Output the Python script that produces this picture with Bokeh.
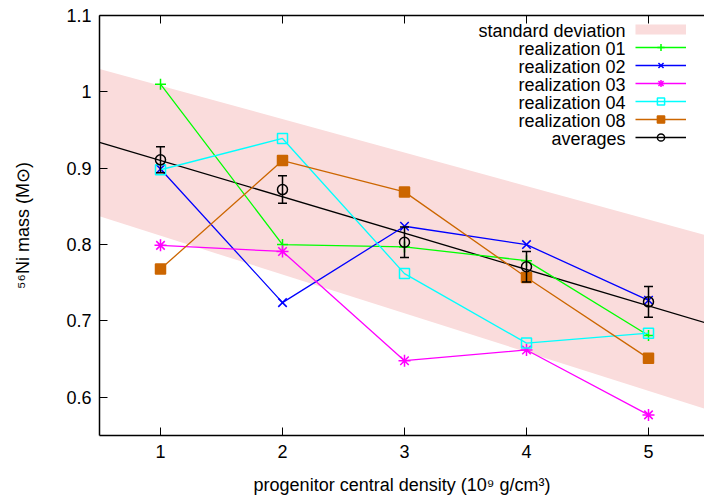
from bokeh.plotting import figure
from bokeh.models import (Range1d, LinearAxis, FixedTicker,
                          Legend, LegendItem, Label)
from bokeh.core.properties import value
from bokeh.embed import file_html
from bokeh.resources import INLINE

# ---------------- data ----------------
density = [1, 2, 3, 4, 5]
real_01 = [1.010, 0.800, 0.797, 0.779, 0.681]
real_02 = [0.899, 0.724, 0.824, 0.800, 0.727]
real_03 = [0.799, 0.791, 0.648, 0.662, 0.577]
real_04 = [0.898, 0.939, 0.762, 0.671, 0.684]
real_08 = [0.768, 0.910, 0.869, 0.757, 0.651]
avg_val = [0.911, 0.872, 0.803, 0.771, 0.725]
avg_err = [0.017, 0.018, 0.020, 0.020, 0.020]

fit_x = [0.5, 5.5]
fit_y = [0.934, 0.696]
band_x = [0.5, 5.5]
band_lower = [0.837, 0.583]
band_upper = [1.030, 0.811]

legend_labels = ["standard deviation", "realization 01", "realization 02",
                 "realization 03", "realization 04", "realization 08", "averages"]
x_ticks = [1, 2, 3, 4, 5]
y_ticks = [0.6, 0.7, 0.8, 0.9, 1.0, 1.1]

FONT = "Liberation Sans"
FS = "18px"

p = figure(width=704, height=497, output_backend="svg", toolbar_location=None,
           x_range=Range1d(0.5, 5.459), y_range=Range1d(0.55, 1.1),
           min_border_left=99, min_border_right=0, min_border_top=15,
           min_border_bottom=60, x_axis_type=None, y_axis_type=None)
p.outline_line_color = None
p.xgrid.visible = False
p.ygrid.visible = False
p.background_fill_color = "white"
p.border_fill_color = "white"

def style_axis(ax, labels=True):
    ax.major_tick_in = 8
    ax.major_tick_out = 0
    ax.minor_tick_line_color = None
    ax.axis_line_color = "black"
    ax.axis_line_width = 1.5
    ax.major_tick_line_color = "black"
    ax.major_label_text_font = FONT
    ax.major_label_text_font_size = FS
    ax.major_label_text_color = "black"
    ax.axis_label_text_font = FONT
    ax.axis_label_text_font_size = FS
    ax.axis_label_text_font_style = "normal"
    ax.axis_label_text_color = "black"
    if not labels:
        ax.major_label_text_color = None

xax = LinearAxis(ticker=FixedTicker(ticks=x_ticks),
                 axis_label="progenitor central density (10⁹ g/cm³)")
style_axis(xax)
xax.major_label_standoff = 9
xax.axis_label_standoff = 14
p.add_layout(xax, "below")

yax = LinearAxis(ticker=FixedTicker(ticks=y_ticks), axis_label="⁵⁶Ni mass (M⊙)")
style_axis(yax)
yax.major_label_standoff = 8
yax.axis_label_standoff = 30
yax.major_label_overrides = {1.0: "1"}
p.add_layout(yax, "left")

tax = LinearAxis(ticker=FixedTicker(ticks=x_ticks))
style_axis(tax, labels=False)
tax.major_label_standoff = 0
p.add_layout(tax, "above")

# ---------------- band & fit ----------------
BAND = "#fadcdc"
p.varea(x=band_x, y1=band_lower, y2=band_upper, fill_color=BAND, fill_alpha=1.0)
fit_r = p.line(fit_x, fit_y, line_color="black", line_width=1.3)

series = [
    (real_01, "#00ff00", "cross", None, 11),
    (real_02, "#0000ff", "x", None, 12),
    (real_03, "#ff00ff", "asterisk", None, 12),
    (real_04, "#00ffff", "square", None, 10),
    (real_08, "#cc6600", "square", "#cc6600", 10),
]
renderers = []
for vals, col, mk, fc, sz in series:
    lr = p.line(density, vals, line_color=col, line_width=1.3)
    sr = p.scatter(density, vals, marker=mk, size=sz,
                   line_color=col, fill_color=fc, line_width=1.5)
    renderers.append((lr, sr))

# averages with error bars
lo = [v - e for v, e in zip(avg_val, avg_err)]
hi = [v + e for v, e in zip(avg_val, avg_err)]
p.segment(x0=density, y0=lo, x1=density, y1=hi, line_color="black", line_width=1.5)
p.scatter(density, lo, marker="dash", size=9, line_color="black", line_width=1.5)
p.scatter(density, hi, marker="dash", size=9, line_color="black", line_width=1.5)
avg_r = p.scatter(density, avg_val, marker="circle", size=10,
                  line_color="black", fill_color=None, line_width=1.5)

# ---------------- legend ----------------
nan = float("nan")
band_proxy = p.line([nan], [nan], line_color=BAND, line_width=10, line_cap="butt")
items = [LegendItem(label=value(""), renderers=[band_proxy])]
for lr, sr in renderers:
    items.append(LegendItem(label=value(""), renderers=[lr, sr]))
items.append(LegendItem(label=value(""), renderers=[fit_r, avg_r]))

ROW = 18
leg = Legend(items=items, location=(536, 437 - 22 - 7 * ROW),
             glyph_width=51, glyph_height=ROW, label_height=ROW, label_width=0,
             label_standoff=0, spacing=0, padding=0, margin=0,
             border_line_color=None, background_fill_alpha=0,
             label_text_color=None)
p.add_layout(leg, "center")

# legend texts, right-aligned to the left of the samples
px_per_y = 422 / 0.55
x_text = 0.5 + (625 - 99) / 122.0
for i, lab in enumerate(legend_labels):
    row_center_py = 22 + ROW * i + ROW / 2  # page pixel
    y_data = 1.1 - (row_center_py - 15) / px_per_y
    p.add_layout(Label(x=x_text, y=y_data, text=lab, text_align="right",
                       text_baseline="middle", text_font=FONT,
                       text_font_size=FS, text_color="black"))

open("out.html", "w").write(file_html(p, INLINE))
